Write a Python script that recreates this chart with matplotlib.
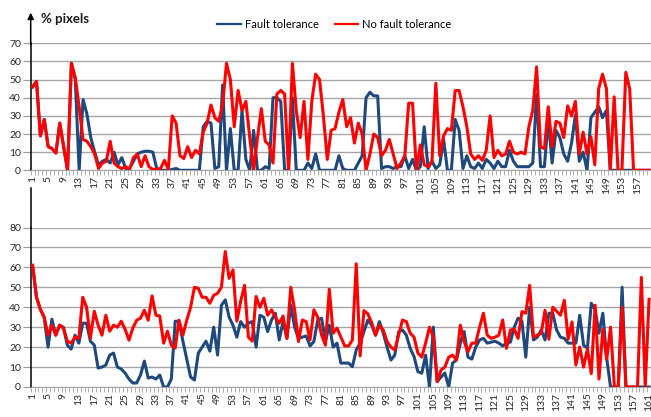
import numpy as np
import matplotlib.pyplot as plt

plt.rcParams['font.family'] = ['Lato', 'DejaVu Sans']

BLUE = '#1F497D'
RED = '#FF0000'
series_names = ['Fault tolerance', 'No fault tolerance']

# top chart, % pixels per frame (160 frames)
top_fault = [46, 49, 19, 28, 13, 12, 9.5, 26, 13, 0,
             59, 50, 0, 39, 31, 18, 10, 3, 5, 6,
             4, 10, 3, 7, 1, 1, 5, 9, 10, 10.5,
             10.5, 10, 1, 0, 0, 0, 0.5, 1, 0, 0,
             0, 0, 0, 0, 24, 27, 26, 1, 2, 47,
             0, 23, 0, 0, 33, 6, 0, 22, 0, 0,
             2, 1, 40, 40, 38, 0, 0, 40, 0, 0,
             0, 4, 1, 9, 0, 0, 0, 0, 0, 8,
             1, 0, 0, 0, 4, 8, 40, 43, 41, 41,
             1, 2, 2, 1, 2, 2, 8, 1, 6, 0,
             2, 24, 1, 5, 1, 3, 17, 0, 0, 28,
             22, 1, 8, 2, 1, 4, 1, 6, 4, 1,
             5, 2, 2, 11, 5, 2, 2, 2, 2, 4,
             42, 2, 2, 28, 4, 22, 18, 9, 5, 15,
             30.5, 5, 10, 0, 29, 32, 35, 29, 33, 0,
             0, 0, 0, 0, 0, 0, 0, 0, 0, 0]
top_nofault = [46, 49, 19, 28, 13, 12, 9.5, 26, 13, 0,
               59, 51, 35, 17, 16, 13, 9, 1, 4, 5,
               16, 4, 2, 1, 2, 0.5, 7, 9, 2, 8,
               2, 0.5, 0.5, 1, 5.5, 0.5, 30, 26, 8, 6.5,
               13, 7, 11, 9, 21, 26, 36, 29, 27, 36,
               59, 50, 24, 44, 33, 38, 18, 0, 18, 34,
               16, 14, 4, 42, 44, 42, 0, 59, 33, 18,
               38, 6, 38, 53, 50, 30, 6, 22, 23, 32,
               39, 24, 29, 15, 26, 20, 0, 9, 20, 18,
               8, 11, 17, 9, 1, 4, 8, 37, 37, 0,
               14, 3, 2, 5, 48, 8, 19, 23, 22, 44,
               44, 35, 24, 9, 6, 8, 5.5, 11, 30, 7,
               11, 8, 9, 16, 10, 9, 10, 9, 24, 33,
               57, 13, 12, 35, 13, 27, 26, 18, 35.5, 30,
               38, 9, 21, 9, 18.5, 3, 45, 53, 45, 0,
               40.5, 0, 0, 54, 45, 0, 0, 0, 0, 0]

# bottom chart (161 frames)
bottom_fault = [61, 45, 39, 35, 20, 34, 26, 31, 30, 21,
                19, 26, 22, 32, 32, 23, 21, 9.5, 10, 11,
                16, 17, 10, 9, 7, 4, 2, 2, 6, 13,
                4.5, 5, 4, 6, 0, 0, 4, 33, 33, 23,
                14, 5, 3.5, 17, 20, 23, 18, 30, 16, 41,
                43.7, 35, 31, 25, 32.8, 30, 32, 32.8, 20, 36,
                35, 27.8, 33.6, 37, 23.6, 32.8, 24.4, 41, 30, 24.4,
                25, 25.6, 20.6, 22.8, 33.6, 34.5, 22.8, 31, 20, 22,
                12, 12, 12, 10.2, 18.6, 22, 27.8, 33.6, 31, 26,
                32.8, 27, 20, 13.5, 16, 27.8, 28.6, 26, 19.4, 15.2,
                7.7, 6.9, 16, 0, 30, 2.7, 5, 7, 0, 12,
                13.5, 22, 27.8, 15, 14, 20, 23.6, 24.4, 22, 22.5,
                23, 22, 20.6, 22, 22.5, 30, 34.5, 33, 15, 40,
                23.6, 25, 28.6, 23.6, 37, 37, 28.6, 25, 24.4, 22,
                22, 22, 36, 21, 19.4, 42, 38.7, 27, 37, 14.4,
                0, 0, 0, 50, 0, 0, 0, 0, 0, 0, 0]
bottom_nofault = [61, 45, 39, 35, 26, 31, 26, 31, 29.5, 23,
                  22, 25, 24.5, 45, 40, 24.5, 38, 31, 26, 36,
                  28, 31, 30, 33, 29, 23.5, 29.5, 33.5, 34.5, 38.5,
                  33.5, 45.7, 36, 35.6, 22, 28, 21, 19.5, 33.5, 26,
                  33.5, 40, 50, 49.5, 45, 45, 42, 46, 47, 50,
                  68, 54.5, 58.7, 33, 43, 51, 25, 23, 45.4, 40,
                  44.5, 36, 38.7, 35, 32, 35.6, 24.4, 50, 38.7, 22.8,
                  33.6, 32.8, 23.6, 38.7, 35, 26, 21, 49, 27, 29.5,
                  25, 20.6, 20.6, 23.6, 61.8, 15.6, 38.3, 36.7, 32.3, 26,
                  31, 28.6, 22.8, 20, 18.6, 26, 33.6, 32.8, 27, 25,
                  17, 15, 22, 30, 25, 2.7, 8.5, 10, 15, 16,
                  13.5, 31, 22.8, 17.7, 22, 22, 30, 37, 26, 24.4,
                  25, 26, 33.6, 19.4, 28.6, 29, 24.4, 37.8, 37, 51,
                  25, 26, 27, 38.5, 24, 40, 38, 36, 43.5, 24,
                  32.6, 11, 20, 10, 19, 6.7, 41, 4, 29, 14,
                  30, 0, 0, 40, 0, 0, 0, 0, 55, 0, 44]

W, H = 651, 417
fig = plt.figure(figsize=(W / 100, H / 100), dpi=100)


def rect(x0, y_top, x1, y_bot):
    return [x0 / W, 1 - y_bot / H, (x1 - x0) / W, (y_bot - y_top) / H]


ax_top = fig.add_axes(rect(30.7, 43.3, 651, 170.3))
ax_bot = fig.add_axes(rect(30.7, 227.5, 651, 387))


def draw(ax, fault, nofault, ymax, xmax):
    n = len(fault)
    x = np.arange(1, n + 1)
    lb, = ax.plot(x, fault, color=BLUE, lw=2.2, solid_joinstyle='round', zorder=3)
    lr, = ax.plot(x, nofault, color=RED, lw=2.2, solid_joinstyle='round', zorder=4)
    ax.set_xlim(0.5, xmax)
    ax.set_ylim(0, ymax)
    ax.set_yticks(np.arange(0, ymax + 1, 10))
    ax.set_xticks(np.arange(1, n + 1, 4))
    ax.set_xticks(np.arange(0.5, n + 1, 1), minor=True)
    ax.tick_params(axis='x', which='major', length=0, pad=4, labelsize=7.5,
                   labelrotation=90, labelcolor='#262626')
    ax.tick_params(axis='x', which='minor', length=3.5, width=0.6, color='#A0A0A0')
    ax.tick_params(axis='y', length=6, width=0.9, color='#A0A0A0', pad=1,
                   labelsize=7.5, labelcolor='#262626')
    ax.yaxis.grid(True, color='#A6A6A6', lw=1)
    ax.set_axisbelow(True)
    for s in ['top', 'right']:
        ax.spines[s].set_visible(False)
    ax.spines['bottom'].set_color('#A6A6A6')
    ax.spines['left'].set_color('black')
    ax.spines['left'].set_linewidth(1.1)
    return lb, lr


lb, lr = draw(ax_top, top_fault, top_nofault, 70, 159.55)
draw(ax_bot, bottom_fault, bottom_nofault, 80, 161.5)

# axis arrow on top chart, plain extension on bottom chart
ax_top.annotate('', xy=(0, 1.241), xytext=(0, 0.99), xycoords='axes fraction',
                arrowprops=dict(arrowstyle='-|>', color='black', lw=1.1,
                                mutation_scale=9, shrinkA=0, shrinkB=0))
ax_bot.plot([0, 0], [1, 1.25], transform=ax_bot.transAxes, color='black',
            lw=1.1, clip_on=False)

fig.text(40.7 / W, 1 - 19 / H, '% pixels', fontsize=9.5, fontweight='bold',
         va='center', ha='left', color='#1a1a1a')

leg = fig.legend([lb, lr], series_names, loc='center',
                 bbox_to_anchor=(334.5 / W, 1 - 24 / H),
                 ncol=2, frameon=False, fontsize=8, handlelength=2.1,
                 handletextpad=0.35, columnspacing=1.5)
for line in leg.get_lines():
    line.set_linewidth(1.6)

fig.savefig('out.png', dpi=100)
